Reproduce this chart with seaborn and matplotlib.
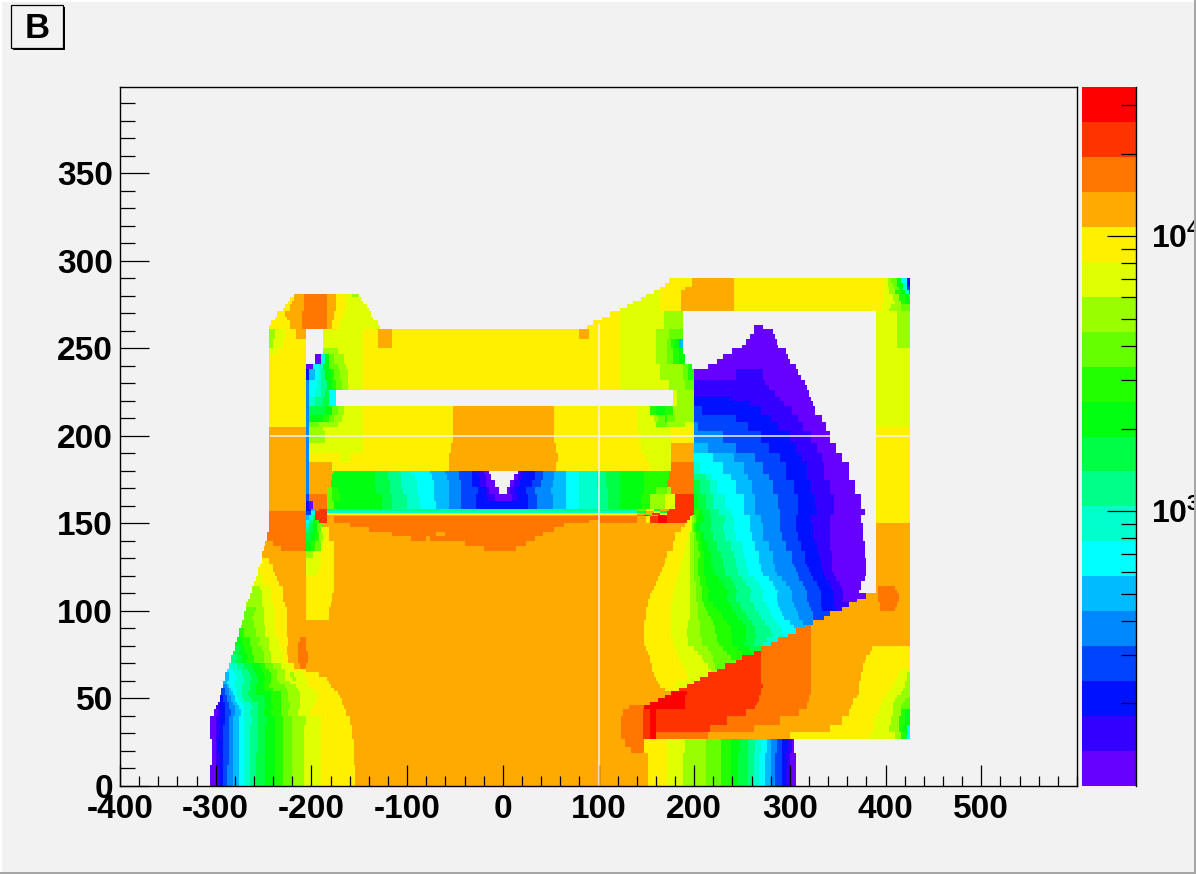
import numpy as np
import matplotlib
matplotlib.use('Agg')
import matplotlib.pyplot as plt
import seaborn as sns
from matplotlib.colors import ListedColormap
from matplotlib.patches import Rectangle

plt.rcParams['font.family'] = ['Liberation Sans', 'DejaVu Sans']
plt.rcParams['mathtext.fontset'] = 'custom'
plt.rcParams['mathtext.bf'] = 'Liberation Sans:bold'
plt.rcParams['mathtext.rm'] = 'Liberation Sans:bold'

# one colour per contour band, lowest first
level_names = 'abcdefghijklmnopqrst'
level_colors = ['#6600ff', '#3300ff', '#0011ff', '#0044ff', '#0088ff', '#00bbff', '#00ffff',
                '#00ffcc', '#00ff88', '#00ff44', '#00ff11', '#22ff00', '#66ff00', '#99ff00',
                '#e0ff00', '#fff000', '#ffaa00', '#ff7700', '#ff3300', '#ff0000']

# field map: "floor: run run ...", each run = level + x where it stops
field_rows = [
    "0: .-305 a-300 b-295 c-291 d-287 e-282 f-276 g-270 h-264 i-258 j-248 k-238 l-230 m-220 n-207 o-189 p-153 q153 p172 o189 n212 m228 l238 k247 j256 i263 h269 g275 f280 e285 d292 c297 b301 a306",
    "12: .-304 a-300 b-296 c-291 d-286 e-281 f-276 g-270 h-264 i-257 j-248 k-238 l-230 m-220 n-207 o-189 p-155 q153 p172 o189 n212 m228 l238 k247 j256 i263 h269 g275 f280 e285 d292 c297 b301 a306",
    "19: .-303 a-300 b-297 c-291 d-286 e-281 f-276 g-270 h-263 i-256 j-248 k-238 l-230 m-220 n-207 o-190 p-155 q135 r148 p172 o190 n213 m229 l239 k248 j257 i264 h270 g276 f281 e286 d293 c298 b302 a305",
    "22: .-303 a-300 b-297 c-291 d-286 e-281 f-276 g-270 h-263 i-256 j-248 k-238 l-230 m-220 n-207 o-190 p-156 q128 r148 p172 o190 n213 m229 l239 k248 j257 i264 h270 g276 f281 e286 d293 c298 b302 a305",
    "27: .-306 a-299 b-296 c-291 d-286 e-281 f-276 g-270 h-263 i-256 j-247 k-238 l-230 m-220 n-207 o-190 p-158 q125 r147 s155 t160 r215 q300 p385 o410 n416 l420 j423 g426",
    "31: .-306 a-299 b-296 c-291 d-286 e-281 f-276 g-270 h-263 i-256 j-247 k-238 l-230 m-220 n-207 o-190 p-158 q125 r147 s155 t160 s217 r262 q342 p388 o405 n414 l418 k423 g426",
    "35: .-305 a-300 b-296 c-290 d-286 e-281 f-276 g-269 h-262 i-255 j-246 k-237 l-229 m-219 n-206 o-190 p-160 q125 r147 s155 t160 s235 r290 q355 p388 o406 n415 l420 k426",
    "40: .-301 a-298 b-294 c-289 d-284 e-279 f-274 g-270 h-263 i-255 j-249 k-241 l-232 m-223 n-213 o-199 p-164 q127 r147 s155 t160 s255 r311 q363 p392 o408 n416 l421 k426",
    "44: .-299 b-295 c-290 d-285 e-280 f-275 g-269 h-262 i-255 j-248 k-240 l-231 m-222 n-212 o-198 p-166 q132 r148 t190 s265 r318 q365 p395 o408 n417 m426",
    "46: .-298 b-294 c-290 d-285 e-281 f-277 g-271 h-264 i-256 j-248 k-241 l-232 m-222 n-212 o-196 p-167 q155 t190 s266 r319 q366 p396 o409 n418 m426",
    "48: .-296 c-292 d-288 e-284 f-280 g-276 h-270 i-262 j-248 k-241 l-232 m-223 n-211 o-194 p-168 q163 t190 s268 r320 q367 p397 o410 n420 m426",
    "50: .-295 c-291 d-287 e-284 f-280 g-277 h-271 i-263 j-250 k-241 l-232 m-223 n-211 o-194 p-170 q170 t191 s269 r321 q370 p400 o412 n424 m426",
    "52: .-294 d-290 e-286 f-282 g-278 h-272 i-265 j-258 k-241 l-232 m-223 n-211 o-194 p-171 q177 t192 s270 r322 q372 p403 o417 n426",
    "54: .-293 d-289 e-286 f-283 g-278 h-271 i-264 j-257 k-250 l-240 m-225 n-213 o-198 p-175 q170 p185 s271 r322 q372 p406 o418 n426",
    "56: .-292 e-288 f-285 g-279 h-271 i-264 j-257 k-250 l-243 m-228 n-216 o-204 p-180 q165 p180 o192 s272 r322 q372 p408 o420 n426",
    "58: .-291 f-287 g-279 h-270 i-263 j-256 k-249 l-241 m-233 n-222 o-205 p-182 q163 p182 o200 s271 r322 q373 p410 o421 n426",
    "60: .-290 f-286 g-278 h-270 i-262 j-255 k-248 l-241 m-235 n-228 o-220 n-216 o-204 p-184 q161 p193 o207 s271 r322 q374 p412 o422 n426",
    "62: .-289 f-285 g-279 h-272 i-264 j-257 k-249 l-242 m-235 n-228 o-222 n-218 o-208 p-192 q159 p192 o214 s271 r322 q375 p414 o423 n426",
    "65: .-287 g-281 h-274 i-266 j-259 k-251 l-244 m-236 n-228 o-219 p-213 o-210 p-205 q157 p192 o218 n225 s271 r322 q376 p417 o426",
    "67: .-286 h-277 i-269 j-262 k-254 l-247 m-239 n-231 o-222 p-218 q-211 r-205 q156 p189 o214 n223 m233 s271 r322 q377 p426",
    "70: .-284 i-279 j-274 k-267 l-260 m-249 n-241 o-229 p-224 q-213 r-204 q155 p187 o210 n221 m244 s271 r322 q378 p426",
    "72: .-283 i-278 j-272 k-266 l-259 m-249 n-241 o-229 p-224 q-213 r-204 q154 p185 o208 n220 m238 l251 s271 r322 q380 p426",
    "75: .-281 j-275 k-268 l-261 m-250 n-241 o-229 p-225 q-214 r-204 q152 p183 o204 n218 m235 l250 k262 s271 r322 q384 p426",
    "77: .-280 j-274 k-269 l-262 m-252 n-243 o-231 p-225 q-214 r-205 q151 p181 o200 n214 m230 l246 k258 j270 r322 q386 p426",
    "80: .-279 k-272 l-263 m-255 n-244 o-234 p-224 q-213 r-206 q149 p178 o195 n209 m226 l241 k253 j263 i272 h281 r322 q426",
    "82: .-278 k-271 l-263 m-254 n-244 o-234 p-224 q-212 r-206 q149 p178 o194 n208 m225 l240 k254 j264 i276 h288 r322 q426",
    "85: .-276 l-270 m-258 n-247 o-237 p-225 q149 p177 o193 n207 m224 l240 k255 j266 i283 h294 g299 r322 q426",
    "87: .-275 l-269 m-258 n-247 o-237 p-225 q149 p177 o193 n207 m223 l239 k255 j265 i281 h292 g306 r322 q426",
    "90: .-273 m-260 n-248 o-237 p-225 q149 p177 o194 n206 m222 l238 k255 j264 i279 h290 g304 f316 r322 q426",
    "92: .-272 m-260 n-249 o-237 p-225 q149 p177 o195 n206 m220 l235 k251 j261 i275 h287 g300 f314 e325 q426",
    "95: .-270 m-262 n-250 o-238 p-226 q-205 p-182 q150 p177 o196 n205 m218 l230 k247 j257 i270 h283 g295 f310 e325 d336 q426",
    "97: .-269 m-260 n-249 o-238 p-226 q-205 p-182 q150 p177 o196 n205 m215 l228 k244 j254 i268 h281 g293 f308 e324 d343 q426",
    "100: .-268 m-258 n-249 o-237 p-225 q-205 p-182 q151 p177 o196 n204 m212 l225 k241 j251 i265 h278 g291 f306 e322 d334 c348 b354 q394 r410 q426",
    "102: .-267 n-252 o-240 p-227 q-205 p-180 q152 p177 o196 n204 m210 l220 k238 j248 i262 h276 g289 f304 e320 d333 c347 b362 q395 r412 q426",
    "105: .-265 n-251 o-241 p-229 q-205 p-178 q153 p178 o197 n203 m208 l215 k235 j245 i259 h273 g287 f302 e318 d332 c346 b356 a370 q392 r414 q426",
    "107: .-264 n-251 o-241 p-229 q-205 p-177 q154 p178 o197 n203 m208 l215 k235 j245 i259 h273 g287 f302 e318 d332 c346 b356 a380 q393 r414 q426",
    "110: .-262 n-251 o-241 p-229 q-205 p-176 q156 p179 o197 n203 m208 l216 k236 j246 i260 h274 g288 f303 e319 d333 c347 b357 a372 .390 q393 r412 q426",
    "112: .-261 n-253 o-242 p-230 q-205 p-176 q158 p180 o197 n203 m208 l215 k233 j244 i258 h271 g285 f300 e316 d330 c344 b354 a374 .390 q393 r410 q426",
    "114: .-259 o-250 p-234 q-205 p-176 q160 p181 o197 n202 m207 l213 k230 j242 i255 h268 g282 f297 e314 d328 c342 b352 a375 .390 q426",
    "117: .-258 o-251 p-235 q-205 p-176 q162 p182 o197 n201 m206 l212 k226 j238 i251 h263 g278 f292 e311 d325 c339 b349 a378 .390 q426",
    "120: .-256 o-253 p-237 q-205 o-193 p-176 q165 p184 o196 n200 m205 l210 k222 j233 i247 h257 g273 f287 e308 d322 c336 b346 a380 .390 q426",
    "122: .-255 p-239 q-205 o-191 p-176 q166 p185 o196 n200 m205 l210 k221 j232 i246 h256 g271 f285 e306 d320 c334 b345 a380 .390 q426",
    "125: .-253 p-240 q-205 o-190 p-176 q168 p186 o196 n200 m205 l210 k220 j231 i245 h255 g270 f284 e305 d319 c333 b345 a380 .390 q426",
    "127: .-252 p-243 q-205 o-190 p-176 q170 p187 o197 n201 m205 l210 k219 j230 i244 h254 g269 f283 e303 d317 c332 b344 a380 .390 q426",
    "130: .-251 q-205 n-197 o-190 p-176 q172 p188 o197 n201 m206 l210 k219 j229 i243 h253 g268 f282 e302 d316 c331 b344 a379 .390 q426",
    "134: .-249 q-232 r-205 k-200 l-195 m-190 o-187 p-176 q-20 r15 q178 p191 o197 n201 m205 l209 k215 j225 i238 h250 g265 f278 e297 d312 c328 b343 a378 .390 q426",
    "137: .-248 q-240 r-205 k-200 l-195 m-190 o-187 p-176 q-40 r25 q178 p191 o197 n201 m205 l209 k215 j225 i238 h250 g265 f278 e297 d312 c328 b343 a378 .390 q426",
    "140: .-246 r-205 j-200 k-196 l-192 n-188 o-185 p-182 q-95 r-80 q-75 r35 q181 p194 o197 n200 m203 l207 k210 j221 i233 h245 g261 f273 e292 d308 c325 b343 a377 .390 q426",
    "143: .-245 r-205 j-200 k-196 l-192 n-188 o-185 p-182 q-115 r-70 q-60 r42 q181 p194 o197 n200 m203 l207 k210 j221 i233 h245 g261 f273 e292 d308 c325 b343 a377 .390 q426",
    "145: .-244 r-205 i-201 j-197 k-193 m-189 o-186 p-182 q-140 r55 q187 p197 o199 m201 l203 k207 j218 i231 h243 g259 f272 e291 d307 c324 b342 a376 .390 q426",
    "148: .-243 r-205 h-201 j-197 k-193 m-188 q-160 r65 q190 p197 o199 m201 l203 k207 j218 i231 h243 g259 f272 e291 d307 c324 b342 a376 .390 q426",
    "150: .-243 r-205 g-201 i-198 k-195 l-192 s-184 q-176 r90 q100 r140 q150 p155 s163 t172 s193 p197 o199 n201 m203 l205 k210 j219 i232 h243 g258 f270 e290 d306 c323 b342 a375 .390 p426",
    "152: .-243 r-205 f-201 h-198 j-195 s-183 q-176 r140 q150 p155 s163 t172 s197 o199 n201 m203 l205 k210 j219 i232 h243 g258 f270 e290 d306 c323 b342 a375 .390 p426",
    "154: .-243 r-205 f-201 h-198 j-195 s-183 q-176 q140 r148 s155 q163 t170 s199 n201 m203 l205 k210 j219 i232 h243 g258 f270 e290 d306 c323 b342 a375 .390 p426",
    "155: .-243 r-205 d-200 g-196 s-183 p-176 p140 q150 m157 s165 p172 s201 l206 k209 j217 i226 h238 g252 f264 e290 d308 c329 b346 a379 .390 p426",
    "156: .-243 r-205 d-200 g-196 s-183 h-176 h140 j150 q158 p165 j172 s201 l206 k209 j217 i226 h238 g252 f264 e290 d308 c329 b346 a379 .390 p426",
    "157: .-243 q-205 c-199 f-196 r-192 s-183 i-176 i140 m150 p158 j165 q175 s201 l206 k209 j217 i226 h238 g252 f264 e290 d308 c329 b346 a379 .390 p426",
    "158: .-243 q-205 c-201 a-197 r-183 m-176 k-125 j-115 i-100 h-86 g-70 f-56 e-44 d-27 c26 d36 e52 f67 g81 h100 i110 j123 k145 l155 n170 o180 s201 k204 j212 i221 h233 g252 f264 e289 d308 c327 b346 a374 .390 p426",
    "163: .-243 q-205 d-201 r-183 m-178 l-170 k-125 j-115 i-100 h-87 g-71 f-56 e-44 d-27 c-15 b-7 a10 b17 c27 d36 e52 f67 g81 h100 i110 j123 k145 l155 n170 o180 s201 k204 j212 i221 h233 g252 f264 e289 d308 c327 b346 a374 .390 p426",
    "167: .-243 q-205 e-201 q-184 m-178 l-172 k-131 j-117 i-103 h-89 g-72 f-56 e-44 d-25 c-18 b-13 a-3 .5 a8 b14 c25 d35 e50 f67 g81 h100 i110 j123 k148 l160 m172 n177 r201 j207 i216 h224 g245 f261 e283 d304 c323 b343 a369 .390 p426",
    "171: .-243 q-205 e-201 q-180 k-133 j-118 i-105 h-90 g-72 f-56 e-43 d-32 c-23 b-18 a-7 .8 a12 b18 c30 d40 e52 f67 g81 h99 i109 j123 k148 l172 r201 j207 i216 h224 g245 f261 e283 d304 c323 b343 a369 .390 p426",
    "175: .-243 q-205 e-201 q-178 k-134 j-120 i-106 h-92 g-73 f-58 e-45 d-32 c-23 b-18 a-11 .13 a16 b20 c34 d43 e55 f67 g81 h99 i109 j123 k148 l175 r201 i212 h219 g238 f256 e278 d297 c318 b336 a362 .390 p426",
    "178: .-243 q-205 e-201 q-176 k-134 j-120 i-108 h-95 g-75 f-60 e-46 d-32 c-25 b-19 a-14 .17 a19 b22 c34 d43 e55 f67 g81 h99 i109 j123 k148 l175 r201 h206 g231 f252 e273 d296 c318 b337 a362 .390 p426",
    "180: .-243 q-205 e-201 q-178 p-55 q57 p155 o177 r201 h206 g231 f252 e273 d296 c318 b337 a362 .390 p426",
    "185: .-243 q-205 e-201 p-170 o-160 p-55 q58 p150 o177 q201 g221 f242 e264 d290 c313 b334 a355 .390 p426",
    "190: .-243 q-205 e-201 o-145 p-53 q56 p145 o177 q201 f214 e245 d278 c306 b329 a348 .390 p426",
    "196: .-243 q-205 e-201 n-186 o-145 p-52 q55 p143 o177 p201 e231 d270 c301 b323 a343 .390 p426",
    "203: .-243 q-205 e-201 n-188 o-145 p-51 q54 p141 o177 p201 e205 d256 c289 b315 a339 .390 p426",
    "205: .-243 p-205 e-201 m-192 n-172 o-145 p-51 q54 p141 o160 m172 n190 o201 e205 d256 c289 b315 a339 .390 o426",
    "208: .-243 p-205 e-201 k-188 l-182 m-175 n-167 o-145 p-51 q54 p141 o158 n163 m170 l172 m180 n201 d245 c280 b308 a334 .390 o426",
    "212: .-243 p-205 e-201 j-186 k-178 m-172 n-166 o-145 p-51 q54 p141 o155 l160 k171 l178 n201 d208 c270 b303 a327 .390 o426",
    "217: .-243 p-205 e-201 h-195 i-187 j-181 g-173 .178 o182 n201 c259 b294 a325 .390 o426",
    "220: .-243 p-205 e-201 h-195 i-187 j-181 g-173 .178 o182 n201 c240 b290 a322 .390 o426",
    "222: .-243 p-205 e-201 g-195 h-190 i-186 j-181 g-173 .178 o182 n201 b285 a320 .390 o426",
    "226: .-243 p-205 e-201 g-194 h-189 i-184 k-178 l-174 m-168 n-161 o-145 p123 o175 n190 m201 b278 a318 .390 o426",
    "229: .-243 p-205 e-201 g-194 h-189 i-184 k-178 l-174 m-168 n-161 o-145 p123 o175 n190 m201 b275 a316 .390 o426",
    "232: .-243 p-205 c-201 f-196 g-192 h-189 i-185 k-180 l-175 m-170 n-161 o-145 p123 o165 n188 m195 l201 a245 b273 a313 .390 o426",
    "235: .-243 p-205 c-201 f-196 g-192 h-189 i-185 k-180 l-175 m-170 n-161 o-145 p123 o165 n188 m195 l201 a245 b273 a309 .390 o426",
    "238: .-243 p-205 a-197 g-192 h-188 k-182 m-172 n-164 o-145 p123 o165 n188 m195 l198 .214 a306 .390 o426",
    "241: .-243 p-205 .-195 a-190 h-186 k-182 m-176 n-165 o-145 p123 o161 n172 m179 l184 k191 .224 a301 .390 o426",
    "244: .-243 p-205 .-195 a-190 h-186 k-182 m-176 n-165 o-145 p123 o161 n172 m179 l184 k190 .230 a299 .390 o426",
    "247: .-243 o-236 p-205 .-187 n-171 o-145 p123 o161 n172 m179 l184 k188 .240 a296 .390 o426",
    "250: .-244 n-240 o-230 p-205 .-187 o-145 p-129 q-115 p123 o160 n172 m177 l181 k184 f188 .250 a289 .390 o412 n426",
    "252: .-244 n-240 o-230 p-205 .-187 o-145 p-129 q-115 p123 o160 n172 m177 l181 k184 f188 .255 a287 .390 o412 n426",
    "255: .-244 n-238 o-228 p-216 q-205 .-187 o-145 p-129 q-116 p81 q91 p123 o161 n175 m188 .258 a285 .390 o412 n426",
    "258: .-244 n-238 o-228 p-216 q-205 .-187 o-145 p-129 q-116 p81 q91 p123 o161 n175 m188 .262 a282 .390 o412 n426",
    "261: .-243 p-222 q-209 r-184 q-178 p-169 o-128 .88 p123 o168 n188 .263 a272 .390 o412 n426",
    "263: .-242 p-222 q-209 r-184 q-178 p-169 o-130 .94 p123 o168 n188 .390 o412 n426",
    "266: .-238 p-225 q-209 r-183 q-176 p-167 o-135 .104 p123 o168 n188 .390 o412 n426",
    "268: .-235 p-227 q-209 r-183 q-175 p-165 o-137 .112 p123 o168 n188 .390 o412 n426",
    "271: .-230 p-222 q-208 r-183 q-174 p-164 o-140 .123 o165 p186 q243 p396 o405 n417 m426",
    "273: .-227 p-221 q-208 r-183 q-174 p-164 o-142 .130 o165 p186 q243 p396 o407 n417 m426",
    "275: .-224 p-220 q-208 r-183 q-174 p-164 o-145 .137 o165 p186 q243 p398 o410 n417 l421 k426",
    "277: .-221 p-218 q-208 r-183 q-174 p-164 o-147 .144 o165 p186 q243 p398 o409 n415 l420 k425 j426",
    "279: .-218 q-208 r-183 q-174 p-164 o-158 n-150 .150 o165 p186 q243 p398 o408 n414 l420 k424 g426",
    "281: .158 o165 p186 q243 p398 o404 n410 l416 k420 h424 e426",
    "283: .165 p190 q243 p398 o404 n410 m415 k419 h423 d426",
    "285: .170 p198 q243 p398 o403 n408 m413 k418 h422 c426",
    "287: .175 p198 q243 p398 o402 n407 m412 k417 g422 b426",
    "290: .600",
]

# thin unfilled bins running through the map
gap_y, gap_y_from, gap_y_to = 200, -243, 426
gap_x, gap_x_from, gap_x_to = 100, 0, 264

x_major = list(range(-400, 600, 100))
x_minor = list(range(-400, 620, 20))
y_major = list(range(0, 400, 50))
y_minor = list(range(0, 400, 10))

# colour scale of the map
z_min, z_max = 100, 35000
z_major = [1000, 10000]
z_major_labels = [r'$\mathbf{10^{3}}$', r'$\mathbf{10^{4}}$']
z_minor = [200, 300, 400, 500, 600, 700, 800, 900, 2000, 3000, 4000, 5000, 6000, 7000, 8000, 9000, 20000, 30000]

DX = 2
x_left, x_right = -400, 600
y_top = 400
x_centers = np.arange(x_left, x_right, DX) + DX / 2
grid = np.full((y_top, len(x_centers)), np.nan)
floors = [int(r.split(':')[0]) for r in field_rows]
for n, row in enumerate(field_rows[:-1]):
    start = x_left
    for run in row.split(':')[1].split():
        stop = int(run[1:])
        if run[0] != '.':
            cells = (x_centers >= start) & (x_centers < stop)
            grid[floors[n]:floors[n + 1], cells] = level_names.index(run[0])
        start = stop

W, H = 1196, 874
BG = '#f2f2f2'


def px_rect(x0, y0, x1, y1, **kw):
    return Rectangle((x0 / W, 1 - y1 / H), (x1 - x0) / W, (y1 - y0) / H, transform=fig.transFigure, **kw)


fig = plt.figure(figsize=(W / 100, H / 100), dpi=100, facecolor=BG)
cmap = ListedColormap(level_colors)

ax = fig.add_axes([120 / W, 1 - 786 / H, 957 / W, 699 / H], facecolor=BG)
sns.heatmap(np.flipud(grid), ax=ax, cmap=cmap, vmin=-0.5, vmax=19.5, cbar=False,
            xticklabels=False, yticklabels=False)
ax.set_facecolor(BG)
ax.set_ylim(y_top, 0.8)


def xpos(v):
    return (np.asarray(v) - x_left) / DX


def ypos(v):
    return y_top - np.asarray(v)


ax.hlines(ypos(gap_y), xpos(gap_y_from), xpos(gap_y_to), color=BG, lw=1.1)
ax.vlines(xpos(gap_x), ypos(gap_x_from), ypos(gap_x_to), color=BG, lw=1.1)

ax.set_xticks(xpos(x_major))
ax.set_xticklabels([str(v) for v in x_major])
ax.set_xticks(xpos(x_minor), minor=True)
ax.set_yticks(ypos(y_major))
ax.set_yticklabels([str(v) for v in y_major], rotation=0)
ax.set_yticks(ypos(y_minor), minor=True)
ax.tick_params(axis='x', which='major', direction='in', length=15, width=0.9, labelsize=24, pad=6, bottom=True)
ax.tick_params(axis='x', which='minor', direction='in', length=7.5, width=0.9, bottom=True)
ax.tick_params(axis='y', which='major', direction='in', length=21, width=0.9, labelsize=24, pad=5, left=True)
ax.tick_params(axis='y', which='minor', direction='in', length=10.5, width=0.9, left=True)
for label in ax.get_xticklabels() + ax.get_yticklabels():
    label.set_fontweight('bold')
for side in ax.spines.values():
    side.set_visible(True)
    side.set_linewidth(1.0)
    side.set_color('black')

# colour bar, drawn as a one column heatmap
cax = fig.add_axes([1082 / W, 1 - 786 / H, 54 / W, 699 / H], facecolor=BG)
sns.heatmap(np.arange(len(level_colors))[::-1].reshape(-1, 1), ax=cax, cmap=cmap, vmin=-0.5, vmax=19.5,
            cbar=False, xticklabels=False, yticklabels=False)


def zpos(v):
    span = np.log10(z_max) - np.log10(z_min)
    return len(level_colors) * (1 - (np.log10(v) - np.log10(z_min)) / span)


cax.yaxis.tick_right()
cax.set_yticks(zpos(z_major))
cax.set_yticklabels([])
cax.set_yticks(zpos(z_minor), minor=True)
cax.tick_params(axis='y', which='major', direction='in', length=21, width=0.9, right=True)
cax.tick_params(axis='y', which='minor', direction='in', length=10.5, width=0.9, right=True)
cax.tick_params(axis='x', which='both', bottom=False)
for name, side in cax.spines.items():
    side.set_visible(name == 'right')
    side.set_linewidth(1.0)
for z, text in zip(z_major, z_major_labels):
    cax.annotate(text, xy=(1, zpos(z)), xycoords=cax.get_yaxis_transform(), xytext=(11, -2),
                 textcoords='offset points', fontsize=23, va='center', ha='left', annotation_clip=False)

# canvas border and the title box
fig.add_artist(px_rect(0, 0, W, 1.5, color='white', lw=0))
fig.add_artist(px_rect(0, 0, 1.5, H, color='white', lw=0))
fig.add_artist(px_rect(W - 2, 0, W, H, color='#a6a6a6', lw=0))
fig.add_artist(px_rect(0, H - 2, W, H, color='#a6a6a6', lw=0))
fig.add_artist(px_rect(13, 7, 65, 50, color='black', lw=0))
fig.add_artist(px_rect(11, 5, 63, 48, facecolor=BG, edgecolor='black', lw=0.9))
fig.text(37.5 / W, 1 - 28.5 / H, 'B', fontsize=25, fontweight='bold', ha='center', va='center')

fig.savefig('out.png', dpi=100, facecolor=BG)
